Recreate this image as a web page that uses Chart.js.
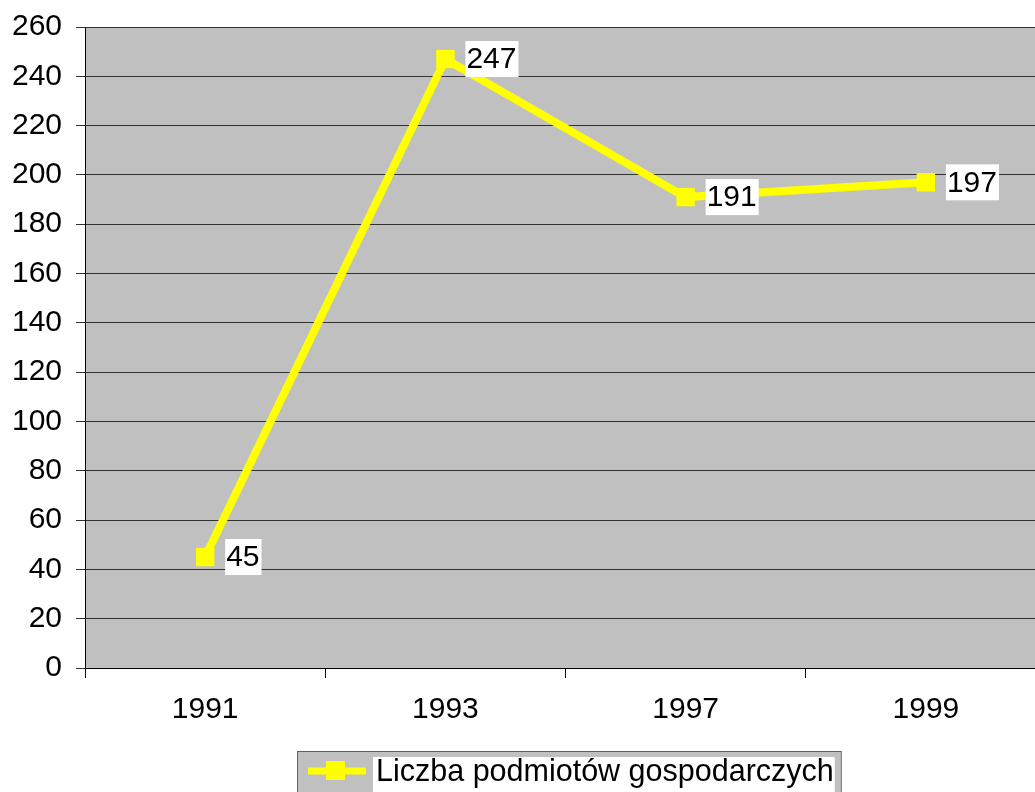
<!DOCTYPE html>
<html>
<head>
<meta charset="utf-8">
<script src="https://cdn.jsdelivr.net/npm/chart.js@4/dist/chart.umd.min.js"></script>
<style>
html,body{margin:0;padding:0;background:#fff;overflow:hidden;width:1035px;height:792px;}
#wrap{width:1059px;height:800px;}
</style>
</head>
<body>
<div id="wrap"><canvas id="c" width="1059" height="800"></canvas></div>
<script>
const categories = ['1991', '1993', '1997', '1999'];
const seriesLabel = 'Liczba podmiotów gospodarczych';
const values = [45, 247, 191, 197];
const yMin = 0, yMax = 260, yStep = 20;

const FONT = "Arial, 'Liberation Sans', sans-serif";

const bgPlugin = {
  id: 'plotBg',
  beforeDraw(chart) {
    const {ctx, chartArea: a} = chart;
    ctx.save();
    ctx.fillStyle = '#C0C0C0';
    ctx.fillRect(a.left, a.top, a.right - a.left, a.bottom - a.top);
    ctx.restore();
  }
};

const labelPlugin = {
  id: 'valLabels',
  afterDatasetsDraw(chart) {
    const ctx = chart.ctx;
    const meta = chart.getDatasetMeta(0);
    ctx.save();
    ctx.font = '30px ' + FONT;
    ctx.textBaseline = 'middle';
    ctx.textAlign = 'left';
    meta.data.forEach((pt, i) => {
      const txt = String(chart.data.datasets[0].data[i]);
      const w = ctx.measureText(txt).width;
      const x0 = pt.x + 20, h = 36;
      ctx.fillStyle = '#FFFFFF';
      ctx.fillRect(x0, pt.y - h / 2, w + 3, h);
      ctx.fillStyle = '#000000';
      ctx.fillText(txt, x0 + 1, pt.y + 1);
    });
    ctx.restore();
  }
};

const legendPlugin = {
  id: 'customLegend',
  afterDraw(chart) {
    const ctx = chart.ctx;
    const txt = chart.data.datasets[0].label;
    ctx.save();
    ctx.font = '30.5px ' + FONT;
    const tw = ctx.measureText(txt).width;
    const bx = 297, by = 751, bh = 50;
    const textX = 376;
    const bw = (textX - bx) + tw + 7;
    ctx.fillStyle = '#C0C0C0';
    ctx.fillRect(bx, by, bw, bh);
    ctx.strokeStyle = '#606060';
    ctx.lineWidth = 1;
    ctx.strokeRect(bx + 0.5, by + 0.5, bw, bh);
    const cy = 771;
    ctx.strokeStyle = '#FFFF00';
    ctx.lineWidth = 7;
    ctx.beginPath();
    ctx.moveTo(308, cy);
    ctx.lineTo(366, cy);
    ctx.stroke();
    ctx.fillStyle = '#FFFF00';
    ctx.fillRect(326, cy - 10, 19, 19);
    ctx.fillStyle = '#FFFFFF';
    ctx.fillRect(373, 757, tw + 4, 40);
    ctx.fillStyle = '#000000';
    ctx.textBaseline = 'middle';
    ctx.fillText(txt, textX, cy + 2);
    ctx.restore();
  }
};

new Chart(document.getElementById('c'), {
  type: 'line',
  data: {
    labels: categories,
    datasets: [{
      label: seriesLabel,
      data: values,
      borderColor: '#FFFF00',
      backgroundColor: '#FFFF00',
      borderWidth: 8,
      tension: 0,
      pointStyle: 'rect',
      pointRadius: 13,
      pointHoverRadius: 13,
      pointBackgroundColor: '#FFFF00',
      pointBorderWidth: 0
    }]
  },
  options: {
    responsive: false,
    animation: false,
    devicePixelRatio: 1,
    layout: { padding: { left: 0, right: 0, top: 27, bottom: 58 } },
    plugins: { legend: { display: false }, tooltip: { enabled: false } },
    scales: {
      x: {
        offset: true,
        grid: { offset: true, drawOnChartArea: false, drawTicks: true, tickLength: 10, color: '#000', lineWidth: 1 },
        border: { display: true, color: '#000', width: 1 },
        ticks: { color: '#000', font: { size: 30, family: FONT }, padding: 14, maxRotation: 0 }
      },
      y: {
        min: yMin, max: yMax,
        afterFit(scale) { scale.width = scale.width - 2; },
        grid: { color: '#333', lineWidth: 1, tickLength: 9 },
        border: { display: true, color: '#000', width: 1 },
        ticks: { stepSize: yStep, color: '#000', font: { size: 30, family: FONT, lineHeight: 0.8 }, padding: 14 }
      }
    }
  },
  plugins: [bgPlugin, labelPlugin, legendPlugin]
});
</script>
</body>
</html>
